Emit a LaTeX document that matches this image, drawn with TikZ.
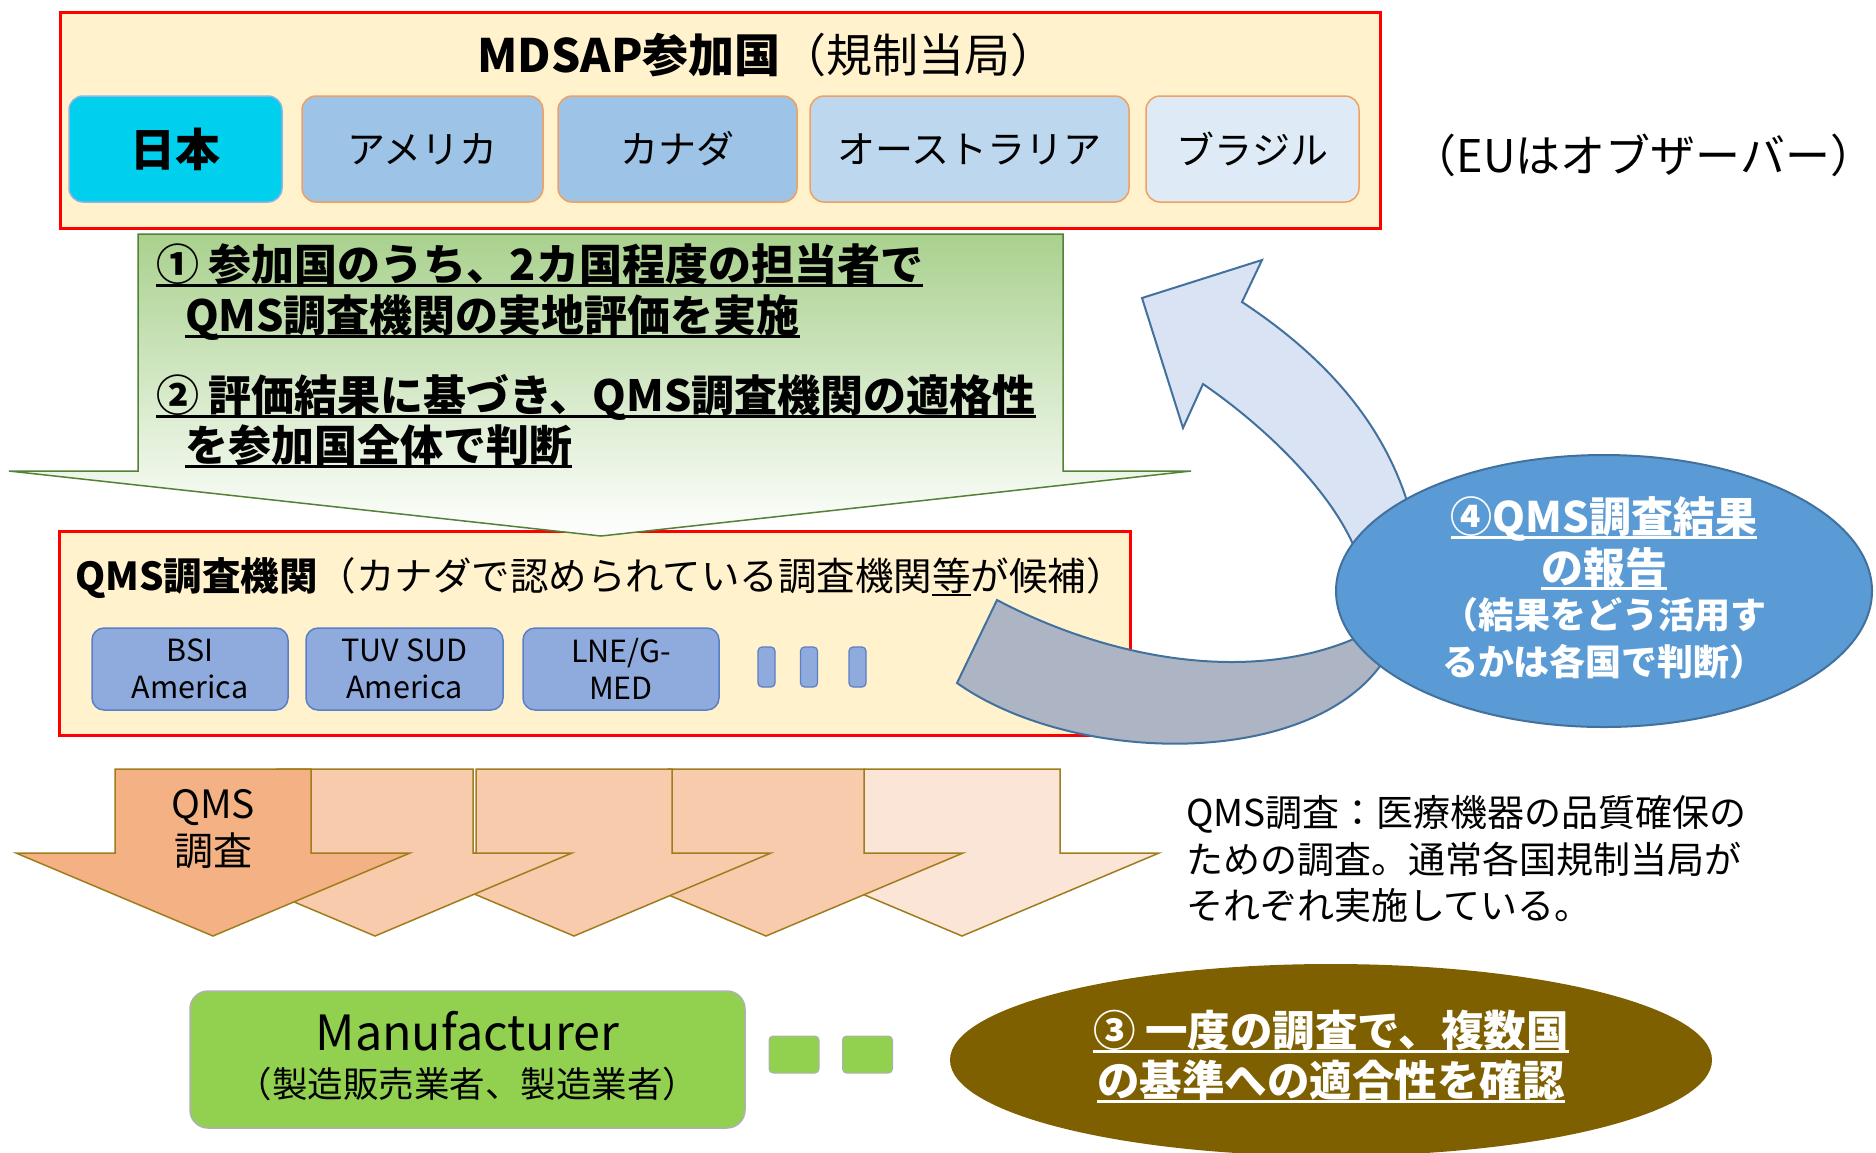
\documentclass[tikz,border=0pt]{standalone}
\usepackage{fontspec}
\setmainfont{Noto Sans CJK JP}
\usetikzlibrary{shapes.geometric}
\definecolor{boxyellow}{HTML}{FFF2CC}
\definecolor{japan}{HTML}{00CFEE}
\definecolor{japanedge}{HTML}{8DB4E2}
\definecolor{usa}{HTML}{9DC3E6}
\definecolor{aus}{HTML}{BDD7EE}
\definecolor{bra}{HTML}{DEEBF7}
\definecolor{ctryedge}{HTML}{F0A060}
\definecolor{orgblue}{HTML}{8FAADC}
\definecolor{orgedge}{HTML}{5B7FC7}
\definecolor{greentop}{HTML}{A9D18E}
\definecolor{greenedge}{HTML}{538135}
\definecolor{grayband}{HTML}{ADB5C4}
\definecolor{arrowedge}{HTML}{41719C}
\definecolor{lightblue}{HTML}{DAE3F3}
\definecolor{ellblue}{HTML}{5B9BD5}
\definecolor{brownsix}{HTML}{7F6000}
\definecolor{orangeA}{HTML}{F4B183}
\definecolor{orangeB}{HTML}{F8CBAD}
\definecolor{orangeC}{HTML}{FBE5D6}
\definecolor{orangeedge}{HTML}{A07C1C}
\definecolor{mgreen}{HTML}{92D050}
\definecolor{mgreenedge}{HTML}{B0B0B0}
\newcommand\myul[1]{\setbox0=\hbox{#1}\rlap{\rule[-0.16em]{\wd0}{0.06em}}\box0}
\newcommand\myulthin[1]{\setbox0=\hbox{#1}\rlap{\rule[-0.15em]{\wd0}{0.04em}}\box0}
\tikzset{
  redbox/.style={draw=red, line width=3pt, fill=boxyellow, inner sep=0pt},
  ctry/.style={rounded corners=14pt, draw=ctryedge, line width=1.5pt, inner sep=0pt, minimum height=106pt, font=\fontsize{38}{44}\selectfont},
  orgbox/.style={rounded corners=12pt, fill=orgblue, draw=orgedge, line width=1.5pt, inner sep=0pt, align=center, minimum height=82pt, font=\fontsize{30.5}{37}\selectfont},
  barbox/.style={rounded corners=4pt, fill=orgblue, draw=orgedge, line width=1.2pt, inner sep=0pt, minimum width=17pt, minimum height=40pt},
  sqbox/.style={rounded corners=4pt, fill=mgreen, draw=mgreenedge, line width=1pt, inner sep=0pt, minimum width=50pt, minimum height=37pt},
  txt/.style={inner sep=0pt, outer sep=0pt},
  bigarrow/.style={draw=arrowedge, line width=2pt},
  downarrow/.style={draw=orangeedge, line width=1.5pt},
  gtext/.style={txt, anchor=base west, font=\fontsize{43}{50}\selectfont\bfseries},
  rtext/.style={txt, anchor=base, text=white, font=\bfseries},
  dtext/.style={txt, anchor=base west, font=\fontsize{37}{44}\selectfont},
}
\begin{document}
\begin{tikzpicture}[x=1pt,y=-1pt]
\useasboundingbox (0,0) rectangle (1876,1152);

% ---------- top: MDSAP participants ----------
\node[redbox, minimum width=1320pt, minimum height=216pt] (mdsap) at (720,120) {};
\node[txt, anchor=base] (title) at (767,72) {\fontsize{46}{52}\selectfont\bfseries MDSAP参加国\mdseries（規制当局）};
\node[ctry, fill=japan, draw=japanedge, minimum width=213pt, font=\fontsize{45}{50}\selectfont\bfseries] (jp) at (175.5,149) {日本};
\node[ctry, fill=usa, minimum width=241pt] (us) at (422.5,149) {アメリカ};
\node[ctry, fill=usa, minimum width=239pt] (ca) at (677.5,149) {カナダ};
\node[ctry, fill=aus, minimum width=319pt] (au) at (969.5,149) {オーストラリア};
\node[ctry, fill=bra, minimum width=213pt] (br) at (1252.5,149) {ブラジル};
\node[txt, anchor=base east] (eu) at (1875,172) {\fontsize{45}{52}\selectfont（EUはオブザーバー）};

% ---------- middle: QMS audit organisations ----------
\node[redbox, minimum width=1071pt, minimum height=204pt] (ao) at (594.5,633) {};
\node[txt, anchor=base west] (aohead) at (75,590) {\fontsize{38.5}{44}\selectfont\bfseries QMS調査機関\mdseries（カナダで認められている調査機関\myulthin{等}が候補）};
\node[orgbox, minimum width=196pt] (bsi) at (190,669) {BSI\\America};
\node[orgbox, minimum width=197pt] (tuv) at (404.5,669) {TUV SUD\\America};
\node[orgbox, minimum width=196pt] (lne) at (621,669) {LNE/G-\\MED};
\node[barbox] (bar1) at (766.5,667) {};
\node[barbox] (bar2) at (809,667) {};
\node[barbox] (bar3) at (857.5,667) {};

% ---------- big green down arrow ----------
\path[draw=greenedge, line width=1.5pt, top color=greentop, bottom color=white]
  (138,234) -- (1063,234) -- (1063,471) -- (1191,471) -- (601,536) -- (9,471) -- (138,471) -- cycle;
\node[gtext] (s1a) at (156,280) {\myul{①\ 参加国のうち、2カ国程度の担当者で}};
\node[gtext] (s1b) at (185,331) {\myul{QMS調査機関の実地評価を実施}};
\node[gtext] (s2a) at (156,411) {\myul{②\ 評価結果に基づき、QMS調査機関の適格性}};
\node[gtext] (s2b) at (185,461) {\myul{を参加国全体で判断}};

% ---------- curved report arrow ----------
\path[bigarrow, fill=grayband]
  (997,600) .. controls (1120,665) and (1280,690) .. (1390,620) -- (1395,640)
  .. controls (1340,770) and (1080,770) .. (957,683) -- cycle;
\path[bigarrow, fill=lightblue]
  (1203,384) -- (1183,428) -- (1142,298) -- (1262,260) -- (1242,302)
  .. controls (1330,360) and (1405,440) .. (1420,560) -- (1359,560)
  .. controls (1340,500) and (1270,430) .. (1203,384) -- cycle;
\node[ellipse, fill=ellblue, draw=arrowedge, line width=2pt, inner sep=0pt, minimum width=536pt, minimum height=272pt] (report) at (1604,591) {};
\node[rtext] (r1) at (1604,532) {\fontsize{42}{48}\selectfont\myul{④QMS調査結果}};
\node[rtext] (r2) at (1604,583) {\fontsize{42}{48}\selectfont\myul{の報告}};
\node[rtext] (r3) at (1604,628) {\fontsize{36}{42}\selectfont（結果をどう活用す};
\node[rtext] (r4) at (1604,675) {\fontsize{36}{42}\selectfont るかは各国で判断）};

% ---------- orange QMS audit arrows ----------
\foreach \tx/\col in {962/orangeC, 766/orangeB, 574/orangeB, 375/orangeB, 213/orangeA}{
  \path[downarrow, fill=\col]
    (\tx-98,769) -- (\tx+98,769) -- (\tx+98,853) -- (\tx+197,853) -- (\tx,936)
    -- (\tx-197,853) -- (\tx-98,853) -- cycle;
}
\node[txt, align=center, font=\fontsize{39}{47}\selectfont] (qmsarrow) at (213,829) {QMS\\調査};
\node[dtext] (d1) at (1186,826) {QMS調査：医療機器の品質確保の};
\node[dtext] (d2) at (1186,873) {ための調査。通常各国規制当局が};
\node[dtext] (d3) at (1186,919) {それぞれ実施している。};

% ---------- bottom ----------
\node[rounded corners=18pt, fill=mgreen, draw=mgreenedge, line width=1.5pt, inner sep=0pt, minimum width=555pt, minimum height=137pt] (mfr) at (467.5,1059.5) {};
\node[txt, anchor=base] (mfr1) at (467.5,1050) {\fontsize{48.5}{54}\selectfont Manufacturer};
\node[txt, anchor=base] (mfr2) at (467.5,1097) {\fontsize{35.5}{40}\selectfont（製造販売業者、製造業者）};
\node[sqbox] (sq1) at (794,1054.5) {};
\node[sqbox] (sq2) at (867.5,1054.5) {};
\node[ellipse, fill=brownsix, inner sep=0pt, minimum width=762pt, minimum height=192pt] (confirm) at (1331,1060) {};
\node[rtext] (c1) at (1331,1046) {\fontsize{42.5}{48}\selectfont\myul{③\ 一度の調査で、複数国}};
\node[rtext] (c2) at (1331,1096) {\fontsize{42.5}{48}\selectfont\myul{の基準への適合性を確認}};
\end{tikzpicture}
\end{document}
